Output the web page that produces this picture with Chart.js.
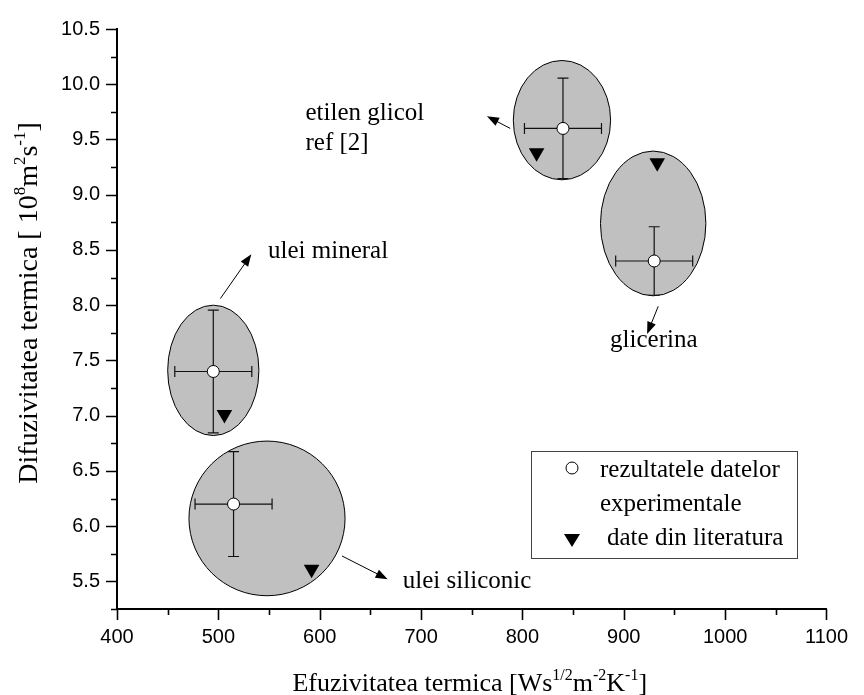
<!DOCTYPE html>
<html>
<head>
<meta charset="utf-8">
<script src="https://cdn.jsdelivr.net/npm/chart.js@4.4.0/dist/chart.umd.min.js"></script>
<style>
  html, body { margin: 0; padding: 0; background: #fff; }
</style>
</head>
<body>
<canvas id="chart" width="864" height="695"></canvas>
<script>
// Measured points (experimental, with error bars)
const expX = [840, 930, 495, 515];
const expY = [9.60, 8.40, 7.40, 6.20];
const expXErr = [38, 38, 38, 38];
const expYErr = [0.455, 0.31, 0.555, 0.475];

// Literature values
const litX = [814, 933, 506, 592];
const litY = [9.38, 9.29, 7.01, 5.61];

// Grey ellipses around each fluid (centre and half-axes in data units)
const ellX = [839, 929, 495, 548];
const ellY = [9.675, 8.74, 7.41, 6.07];
const ellRx = [48, 52, 45, 77];
const ellRy = [0.54, 0.655, 0.59, 0.70];

// Annotation labels and arrows
const noteText = [['etilen glicol', 'ref [2]'], ['glicerina'], ['ulei mineral'], ['ulei siliconic']];
const noteX = [586, 886.5, 549, 682];
const noteY = [9.68, 7.62, 8.43, 5.44];
const arrowFromX = [788, 934, 502, 622];
const arrowFromY = [9.60, 7.99, 8.06, 5.73];
const arrowToX = [765, 923, 532.5, 667];
const arrowToY = [9.71, 7.74, 8.46, 5.52];

// Axis ranges / ticks
const xMin = 400, xMax = 1100, xStep = 50, xLabelEvery = 100;
const yMin = 5.25, yMax = 10.5, yStep = 0.25, yLabelEvery = 0.5;

const legendLabels = [['rezultatele datelor', 'experimentale'], ['date din literatura']];

const SERIF = '"Liberation Serif", "Times New Roman", serif';
const SANS = '"Liberation Sans", Arial, sans-serif';

function isMulti(v, step) {
    return Math.abs(v / step - Math.round(v / step)) < 1e-6;
}

// draws text with superscript pieces
function richText(ctx, parts, x, y, size, align) {
    const supSize = Math.round(size * 0.62);
    let total = 0;
    parts.forEach(p => {
        ctx.font = (p.sup ? supSize : size) + 'px ' + SERIF;
        total += ctx.measureText(p.t).width;
    });
    let cx = align === 'center' ? x - total / 2 : x;
    ctx.textAlign = 'left';
    ctx.textBaseline = 'alphabetic';
    parts.forEach(p => {
        ctx.font = (p.sup ? supSize : size) + 'px ' + SERIF;
        ctx.fillText(p.t, cx, p.sup ? y - size * 0.42 : y);
        cx += ctx.measureText(p.t).width;
    });
}

function arrow(ctx, x1, y1, x2, y2) {
    const ang = Math.atan2(y2 - y1, x2 - x1);
    const len = 12, half = 4.5;
    ctx.beginPath();
    ctx.moveTo(x1, y1);
    ctx.lineTo(x2 - Math.cos(ang) * len * 0.8, y2 - Math.sin(ang) * len * 0.8);
    ctx.stroke();
    ctx.beginPath();
    ctx.moveTo(x2, y2);
    ctx.lineTo(x2 - Math.cos(ang) * len - Math.sin(ang) * half, y2 - Math.sin(ang) * len + Math.cos(ang) * half);
    ctx.lineTo(x2 - Math.cos(ang) * len + Math.sin(ang) * half, y2 - Math.sin(ang) * len - Math.cos(ang) * half);
    ctx.closePath();
    ctx.fill();
}

const ellipsePlugin = {
    id: 'ellipses',
    beforeDatasetsDraw(chart) {
        const ctx = chart.ctx, sx = chart.scales.x, sy = chart.scales.y;
        ctx.save();
        for (let i = 0; i < ellX.length; i++) {
            const cx = sx.getPixelForValue(ellX[i]);
            const cy = sy.getPixelForValue(ellY[i]);
            const rx = Math.abs(sx.getPixelForValue(ellX[i] + ellRx[i]) - cx);
            const ry = Math.abs(sy.getPixelForValue(ellY[i] + ellRy[i]) - cy);
            ctx.beginPath();
            ctx.ellipse(cx, cy, rx, ry, 0, 0, Math.PI * 2);
            ctx.fillStyle = '#c0c0c0';
            ctx.fill();
            ctx.lineWidth = 1;
            ctx.strokeStyle = '#000';
            ctx.stroke();
        }
        // error bars
        ctx.strokeStyle = '#111';
        ctx.lineWidth = 1.2;
        const cap = 5.5;
        for (let i = 0; i < expX.length; i++) {
            const x0 = sx.getPixelForValue(expX[i] - expXErr[i]);
            const x1 = sx.getPixelForValue(expX[i] + expXErr[i]);
            const y0 = sy.getPixelForValue(expY[i] - expYErr[i]);
            const y1 = sy.getPixelForValue(expY[i] + expYErr[i]);
            const px = sx.getPixelForValue(expX[i]);
            const py = sy.getPixelForValue(expY[i]);
            ctx.beginPath();
            ctx.moveTo(x0, py); ctx.lineTo(x1, py);
            ctx.moveTo(x0, py - cap); ctx.lineTo(x0, py + cap);
            ctx.moveTo(x1, py - cap); ctx.lineTo(x1, py + cap);
            ctx.moveTo(px, y0); ctx.lineTo(px, y1);
            ctx.moveTo(px - cap, y0); ctx.lineTo(px + cap, y0);
            ctx.moveTo(px - cap, y1); ctx.lineTo(px + cap, y1);
            ctx.stroke();
        }
        ctx.restore();
    }
};

const decorPlugin = {
    id: 'decor',
    afterDraw(chart) {
        const ctx = chart.ctx, sx = chart.scales.x, sy = chart.scales.y;
        const area = chart.chartArea;
        ctx.save();

        // tick marks, major longer than minor
        ctx.strokeStyle = '#000';
        ctx.lineWidth = 1.6;
        ctx.beginPath();
        sy.ticks.forEach(t => {
            const p = Math.round(sy.getPixelForValue(t.value)) + 0.5;
            const len = isMulti(t.value, yLabelEvery) ? 11 : 6;
            ctx.moveTo(area.left - len, p);
            ctx.lineTo(area.left, p);
        });
        sx.ticks.forEach(t => {
            const p = Math.round(sx.getPixelForValue(t.value)) + 0.5;
            const len = isMulti(t.value, xLabelEvery) ? 11 : 6;
            ctx.moveTo(p, area.bottom);
            ctx.lineTo(p, area.bottom + len);
        });
        ctx.stroke();

        // annotations
        ctx.fillStyle = '#000';
        ctx.strokeStyle = '#000';
        ctx.lineWidth = 1;
        for (let i = 0; i < noteText.length; i++) {
            arrow(ctx,
                sx.getPixelForValue(arrowFromX[i]), sy.getPixelForValue(arrowFromY[i]),
                sx.getPixelForValue(arrowToX[i]), sy.getPixelForValue(arrowToY[i]));
            ctx.font = '25px ' + SERIF;
            ctx.textAlign = 'left';
            ctx.textBaseline = 'alphabetic';
            const tx = sx.getPixelForValue(noteX[i]);
            const ty = sy.getPixelForValue(noteY[i]);
            noteText[i].forEach((line, k) => ctx.fillText(line, tx, ty + k * 30));
        }

        // legend box
        const lg = { left: 531, top: 451, right: 797, bottom: 558 };
        ctx.lineWidth = 1;
        ctx.strokeStyle = '#444';
        ctx.strokeRect(lg.left + 0.5, lg.top + 0.5, lg.right - lg.left, lg.bottom - lg.top);
        ctx.font = '25px ' + SERIF;
        ctx.fillStyle = '#000';
        ctx.fillText(legendLabels[0][0], 600, 477);
        ctx.fillText(legendLabels[0][1], 600, 511);
        ctx.fillText(legendLabels[1][0], 607, 545);
        ctx.beginPath();
        ctx.arc(572, 468, 6, 0, Math.PI * 2);
        ctx.fillStyle = '#fff';
        ctx.fill();
        ctx.strokeStyle = '#000';
        ctx.stroke();
        ctx.beginPath();
        ctx.moveTo(564, 534);
        ctx.lineTo(580, 534);
        ctx.lineTo(572, 547);
        ctx.closePath();
        ctx.fillStyle = '#000';
        ctx.fill();

        // axis titles
        richText(ctx, [
            { t: 'Efuzivitatea termica [Ws' }, { t: '1/2', sup: true },
            { t: 'm' }, { t: '-2', sup: true }, { t: 'K' }, { t: '-1', sup: true }, { t: ']' }
        ], (area.left + area.right) / 2 - 2, 691, 26, 'center');

        ctx.save();
        ctx.translate(37, (area.top + area.bottom) / 2);
        ctx.rotate(-Math.PI / 2);
        richText(ctx, [
            { t: 'Difuzivitatea termica [ 10' }, { t: '8', sup: true },
            { t: 'm' }, { t: '2', sup: true }, { t: 's' }, { t: '-1', sup: true }, { t: ']' }
        ], 16, 0, 28, 'center');
        ctx.restore();

        ctx.restore();
    }
};

const ctx = document.getElementById('chart').getContext('2d');
new Chart(ctx, {
    type: 'scatter',
    data: {
        datasets: [{
            label: 'rezultatele datelor experimentale',
            data: expX.map((x, i) => ({ x: x, y: expY[i] })),
            pointStyle: 'circle',
            pointRadius: 6,
            pointBackgroundColor: '#fff',
            pointBorderColor: '#000',
            pointBorderWidth: 1
        }, {
            label: 'date din literatura',
            data: litX.map((x, i) => ({ x: x, y: litY[i] })),
            pointStyle: 'triangle',
            pointRotation: 180,
            pointRadius: 9,
            pointBackgroundColor: '#000',
            pointBorderColor: '#000',
            pointBorderWidth: 0
        }]
    },
    options: {
        responsive: false,
        animation: false,
        layout: { padding: { left: 0, right: 28, top: 27, bottom: 0 } },
        plugins: { legend: { display: false }, tooltip: { enabled: false } },
        scales: {
            x: {
                type: 'linear',
                min: xMin, max: xMax,
                afterFit: s => { s.height = 86; },
                grid: { display: false, drawTicks: false },
                border: { display: true, color: '#000', width: 2 },
                ticks: {
                    stepSize: xStep,
                    autoSkip: false,
                    maxRotation: 0,
                    padding: 16,
                    color: '#000',
                    font: { family: SANS, size: 20 },
                    callback: v => isMulti(v, xLabelEvery) ? String(v) : ''
                }
            },
            y: {
                type: 'linear',
                min: yMin, max: yMax,
                afterFit: s => { s.width = 117; },
                grid: { display: false, drawTicks: false },
                border: { display: true, color: '#000', width: 2 },
                ticks: {
                    stepSize: yStep,
                    autoSkip: false,
                    padding: 17,
                    color: '#000',
                    font: { family: SANS, size: 20 },
                    callback: v => isMulti(v, yLabelEvery) ? v.toFixed(1) : ''
                }
            }
        }
    },
    plugins: [ellipsePlugin, decorPlugin]
});
</script>
</body>
</html>
